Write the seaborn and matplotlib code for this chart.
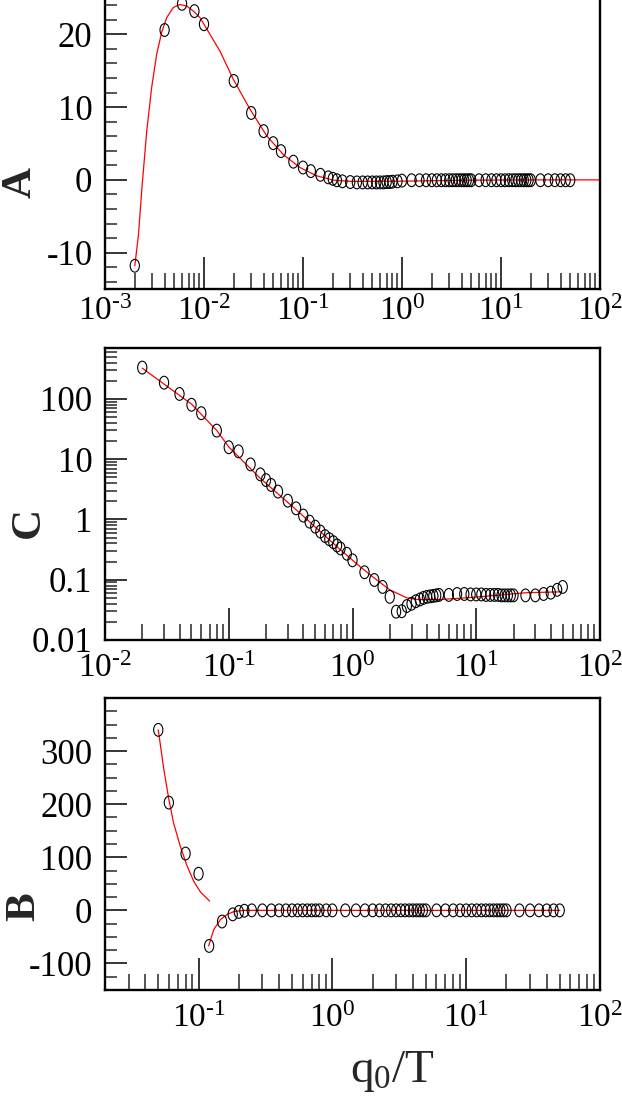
import numpy as np
import matplotlib
matplotlib.use("Agg")
import matplotlib.pyplot as plt
import seaborn as sns
from matplotlib.path import Path
from matplotlib.transforms import Affine2D
from matplotlib.ticker import FixedLocator, FixedFormatter, LogLocator, MultipleLocator, NullFormatter

# ---------------- data ----------------
grid_mid = [0.1, 0.12, 0.15, 0.18, 0.2, 0.22, 0.25, 0.3, 0.35, 0.4, 0.45, 0.5, 0.55, 0.6,
            0.65, 0.7, 0.75, 0.8, 0.9, 1.0, 1.25, 1.5, 1.75, 2.0, 2.25, 2.5, 2.75, 3.0,
            3.25, 3.5, 3.75, 4.0, 4.25, 4.5, 4.75, 5.0, 6, 7, 8, 9, 10, 11, 12, 13, 14,
            15, 16, 17, 18, 19, 20, 25, 30, 35, 40, 45, 50]

# Panel A
xA = [0.002, 0.004, 0.006, 0.008, 0.01, 0.02, 0.03, 0.04, 0.05, 0.06, 0.08] + grid_mid
yA = [-11.8, 20.6, 24.2, 23.2, 21.4, 13.6, 9.2, 6.7, 5.05, 3.95, 2.5,
      1.7, 1.2, 0.7, 0.35, 0.15, -0.05, -0.2,
      -0.3, -0.35, -0.35, -0.35, -0.35, -0.35, -0.35, -0.35, -0.3, -0.3, -0.25, -0.2,
      -0.1,
      -0.05, -0.05, -0.05, -0.05, -0.05, -0.05, -0.05, -0.05,
      -0.05, -0.05, -0.05, -0.05, -0.05, -0.05, -0.05, -0.05,
      -0.05, -0.05, -0.05, -0.05, -0.05, -0.05, -0.05, -0.05,
      -0.05, -0.05, -0.05, -0.05, -0.05, -0.05, -0.05,
      -0.05, -0.05, -0.05, -0.05, -0.05, -0.05]
fitA_x = [0.002, 0.00218, 0.00236, 0.00264, 0.00296, 0.00333, 0.00374, 0.0042, 0.0049,
          0.0057, 0.0067, 0.0078, 0.0091, 0.0115, 0.0145, 0.0198, 0.0292, 0.043, 0.063,
          0.093, 0.138, 0.204, 0.30, 0.44, 0.96, 4.5, 21, 100]
fitA_y = [-11.8, -7.5, -1.1, 6.7, 12.7, 17.3, 20.3, 22.3, 23.7, 24.1, 23.9, 23.2, 22.3,
          20.0, 17.7, 13.8, 9.7, 6.05, 3.5, 1.7, 0.55, -0.05, -0.2, -0.2, -0.18, -0.05, 0.0, 0.0]

# Panel C
xC = [0.02, 0.03, 0.04, 0.05, 0.06, 0.08] + grid_mid
yC = [331, 186, 121, 80, 58, 29.8,
      15.8, 13.5, 8.2, 5.6, 4.5, 3.74, 2.9, 2.05, 1.53, 1.16, 0.92, 0.76, 0.63, 0.53,
      0.47, 0.42, 0.37, 0.33, 0.27, 0.21,
      0.133, 0.099, 0.076, 0.052, 0.0295, 0.030, 0.0366, 0.040, 0.044, 0.047, 0.050,
      0.052, 0.053, 0.054, 0.055, 0.056,
      0.056, 0.058, 0.058, 0.057, 0.057, 0.057, 0.056, 0.056, 0.056, 0.056, 0.055,
      0.055, 0.055, 0.055, 0.055,
      0.055, 0.055, 0.058, 0.061, 0.068, 0.076]
fitC_x = [0.02, 0.05, 0.08, 0.1, 0.18, 0.377, 0.79, 1.15, 1.47, 2.0, 2.75, 3.3, 5.1,
          9.4, 17.5, 25.6, 49]
fitC_y = [324, 82, 30, 16, 4.8, 1.27, 0.32, 0.165, 0.11, 0.068, 0.05, 0.047, 0.047,
          0.051, 0.057, 0.061, 0.063]

# Panel B
xB = [0.05, 0.06, 0.08] + grid_mid
yB = [340, 203, 107, 69, -67, -21, -7.5, -3, -0.7] + [0.0] * (len(grid_mid) - 6)
fitB1_x = [0.05, 0.055, 0.06, 0.065, 0.073, 0.082, 0.092, 0.103, 0.121]
fitB1_y = [340, 266, 209, 165, 121, 84, 55, 35, 17.5]
fitB2_x = [0.119, 0.13, 0.146, 0.164, 0.183, 0.218, 1.0, 10.0, 50.0]
fitB2_y = [-67, -36, -17, -7.5, -2.5, 0.0, 0.0, 0.0, 0.0]

# ticks / labels
A_xticks = [1e-3, 1e-2, 1e-1, 1e0, 1e1, 1e2]
A_xlabels = [r"$10^{\text{-3}}$", r"$10^{\text{-2}}$", r"$10^{\text{-1}}$", r"$10^{0}$", r"$10^{1}$", r"$10^{2}$"]
C_xticks = [1e-2, 1e-1, 1e0, 1e1, 1e2]
C_xlabels = [r"$10^{\text{-2}}$", r"$10^{\text{-1}}$", r"$10^{0}$", r"$10^{1}$", r"$10^{2}$"]
B_xticks = [1e-1, 1e0, 1e1, 1e2]
B_xlabels = [r"$10^{\text{-1}}$", r"$10^{0}$", r"$10^{1}$", r"$10^{2}$"]
A_yticks = [-10, 0, 10, 20]
A_ylabels = ["-10", "0", "10", "20"]
C_yticks = [0.01, 0.1, 1, 10, 100]
C_ylabels = ["0.01", "0.1", "1", "10", "100"]
B_yticks = [-100, 0, 100, 200, 300]
B_ylabels = ["-100", "0", "100", "200", "300"]

# ---------------- style ----------------
sns.set_theme(style="ticks")
plt.rcParams['font.family'] = ['Liberation Serif', 'DejaVu Serif']
plt.rcParams['mathtext.fontset'] = 'custom'
plt.rcParams['mathtext.rm'] = 'Liberation Serif'
plt.rcParams['mathtext.it'] = 'Liberation Serif:italic'
plt.rcParams['mathtext.bf'] = 'Liberation Serif:bold'
plt.rcParams['axes.unicode_minus'] = False

W, H = 622, 1107
fig = plt.figure(figsize=(W / 100, H / 100), dpi=100)
fig.patch.set_facecolor('white')

def add_axes(left, top, right, bottom):
    return fig.add_axes([left / W, 1 - bottom / H, (right - left) / W, (bottom - top) / H])

axA = add_axes(105, -2, 600, 289)
axC = add_axes(105, 348, 600, 640)
axB = add_axes(105, 698, 600, 990)

ell = Path.unit_circle().transformed(Affine2D().scale(0.72, 1.0))

def style(ax, xpad):
    ax.set_facecolor('white')
    ax.grid(False)
    for s in ax.spines.values():
        s.set_visible(True)
        s.set_linewidth(1.7)
        s.set_color('black')
    ax.tick_params(axis='x', which='major', direction='in', length=23, width=1.1,
                   bottom=True, top=False, pad=xpad, labelsize=24, colors='black')
    ax.tick_params(axis='x', which='minor', direction='in', length=11.5, width=1.1,
                   bottom=True, top=False)
    ax.tick_params(axis='y', which='major', direction='in', length=16, width=1.1,
                   left=True, right=False, pad=9, labelsize=25, colors='black')
    ax.tick_params(axis='y', which='minor', direction='in', length=8.6, width=1.1,
                   left=True, right=False)
    ax.set_xlabel('')
    ax.set_ylabel('')

def pts(ax, x, y):
    sns.scatterplot(x=x, y=y, ax=ax, marker=ell, s=85, facecolor='none',
                    edgecolor='black', linewidth=0.8, zorder=3, legend=False)

def fit(ax, x, y):
    sns.lineplot(x=x, y=y, ax=ax, color='#ff0000', linewidth=0.9, sort=False,
                 estimator=None, zorder=2, legend=False)

# Panel A
axA.set_xscale('log')
fit(axA, fitA_x, fitA_y)
pts(axA, xA, yA)
axA.set_xlim(1e-3, 1e2)
axA.set_ylim(-15, 25)
axA.yaxis.set_major_locator(FixedLocator(A_yticks))
axA.yaxis.set_major_formatter(FixedFormatter(A_ylabels))
axA.yaxis.set_minor_locator(MultipleLocator(2))
axA.xaxis.set_major_locator(FixedLocator(A_xticks))
axA.xaxis.set_major_formatter(FixedFormatter(A_xlabels))
axA.xaxis.set_minor_locator(LogLocator(base=10, subs=np.arange(2, 10), numticks=100))
axA.xaxis.set_minor_formatter(NullFormatter())
style(axA, 5)

# Panel C
axC.set_xscale('log')
axC.set_yscale('log')
fit(axC, fitC_x, fitC_y)
pts(axC, xC, yC)
axC.set_xlim(1e-2, 1e2)
axC.set_ylim(0.01, 700)
axC.yaxis.set_major_locator(FixedLocator(C_yticks))
axC.yaxis.set_major_formatter(FixedFormatter(C_ylabels))
axC.yaxis.set_minor_locator(LogLocator(base=10, subs=np.arange(2, 10), numticks=100))
axC.yaxis.set_minor_formatter(NullFormatter())
axC.xaxis.set_major_locator(FixedLocator(C_xticks))
axC.xaxis.set_major_formatter(FixedFormatter(C_xlabels))
axC.xaxis.set_minor_locator(LogLocator(base=10, subs=np.arange(2, 10), numticks=100))
axC.xaxis.set_minor_formatter(NullFormatter())
style(axC, 10)

# Panel B
axB.set_xscale('log')
fit(axB, fitB1_x, fitB1_y)
fit(axB, fitB2_x, fitB2_y)
pts(axB, xB, yB)
axB.set_xlim(0.02, 1e2)
axB.set_ylim(-150, 400)
axB.yaxis.set_major_locator(FixedLocator(B_yticks))
axB.yaxis.set_major_formatter(FixedFormatter(B_ylabels))
axB.yaxis.set_minor_locator(MultipleLocator(25))
axB.xaxis.set_major_locator(FixedLocator(B_xticks))
axB.xaxis.set_major_formatter(FixedFormatter(B_xlabels))
axB.xaxis.set_minor_locator(LogLocator(base=10, subs=np.arange(2, 10), numticks=100))
axB.xaxis.set_minor_formatter(NullFormatter())
style(axB, 10)

# axis titles
fig.text(21 / W, 1 - 182 / H, 'A', rotation=90, ha='center', va='center',
         fontsize=31, fontweight='bold')
fig.text(29 / W, 1 - 522 / H, 'C', rotation=90, ha='center', va='center',
         fontsize=31, fontweight='bold')
fig.text(24 / W, 1 - 907 / H, 'B', rotation=90, ha='center', va='center',
         fontsize=31, fontweight='bold')
fig.text(392 / W, 1 - 1072 / H, r'q$_0$/T', ha='center', va='center', fontsize=34)

fig.savefig('out.png', dpi=100, facecolor='white')
